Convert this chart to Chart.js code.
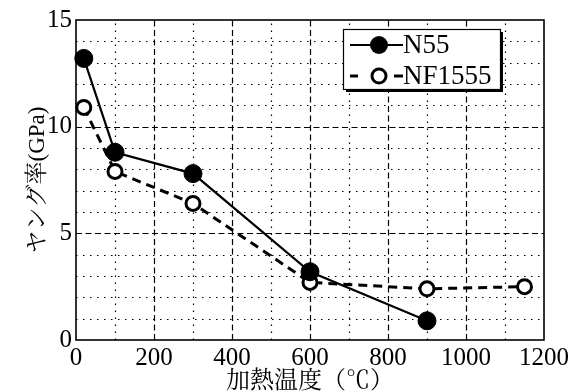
<!DOCTYPE html>
<html><head><meta charset="utf-8">
<script src="https://cdn.jsdelivr.net/npm/chart.js@4/dist/chart.umd.min.js"></script>
<style>html,body{margin:0;padding:0;background:#fff}#wrap{width:579px;height:392px;position:relative}</style>
</head><body><div id="wrap"><canvas id="c" width="579" height="392"></canvas></div>
<script>
const temps_N55 = [20, 100, 300, 600, 900];
const young_N55 = [13.2, 8.8, 7.8, 3.2, 0.9];
const temps_NF1555 = [20, 100, 300, 600, 900, 1150];
const young_NF1555 = [10.9, 7.9, 6.4, 2.7, 2.4, 2.5];
const seriesNames = ['N55', 'NF1555'];
const xTitle = '加熱温度（℃）';
const yTitle = 'ヤング率(GPa)';

const SERIF = "'Liberation Serif', 'Noto Serif CJK JP', serif";

const gridPlugin = {
  id: 'grid',
  beforeDatasetsDraw(chart) {
    const {ctx, chartArea: a, scales: {x, y}} = chart;
    ctx.save();
    ctx.strokeStyle = '#000';
    ctx.lineWidth = 1.2;
    ctx.setLineDash([1.5, 5.5]);
    for (let v = 100; v < 1200; v += 100) {
      if (v % 200 === 0) continue;
      const px = Math.round(x.getPixelForValue(v)) + 0.5;
      ctx.beginPath(); ctx.moveTo(px, a.bottom); ctx.lineTo(px, a.top); ctx.stroke();
    }
    for (let v = 1; v < 15; v += 1) {
      if (v % 5 === 0) continue;
      const py = Math.round(y.getPixelForValue(v)) + 0.5;
      ctx.beginPath(); ctx.moveTo(a.left, py); ctx.lineTo(a.right, py); ctx.stroke();
    }
    ctx.setLineDash([6, 3.5]);
    for (let v = 200; v < 1200; v += 200) {
      const px = Math.round(x.getPixelForValue(v)) + 0.5;
      ctx.beginPath(); ctx.moveTo(px, a.bottom); ctx.lineTo(px, a.top); ctx.stroke();
    }
    for (let v = 5; v < 15; v += 5) {
      const py = Math.round(y.getPixelForValue(v)) + 0.5;
      ctx.beginPath(); ctx.moveTo(a.left, py); ctx.lineTo(a.right, py); ctx.stroke();
    }
    ctx.setLineDash([]);
    ctx.lineWidth = 1.6;
    ctx.strokeRect(a.left, a.top, a.right - a.left, a.bottom - a.top);
    ctx.restore();
  },
  afterDraw(chart) {
    const {ctx} = chart;
    ctx.save();
    const bx = 343, by = 29, bw = 157, bh = 60;
    ctx.fillStyle = '#000';
    ctx.fillRect(bx + 3, by + 3, bw, bh);
    ctx.fillStyle = '#fff';
    ctx.fillRect(bx, by, bw, bh);
    ctx.strokeStyle = '#000';
    ctx.lineWidth = 1.2;
    ctx.strokeRect(bx + 0.5, by + 0.5, bw, bh);
    const y1 = 45, y2 = 76, lx0 = 350, lx1 = 403, mx = 379;
    ctx.lineWidth = 2.2;
    ctx.beginPath(); ctx.moveTo(lx0, y1); ctx.lineTo(lx1, y1); ctx.stroke();
    ctx.beginPath(); ctx.arc(mx, y1, 9, 0, Math.PI * 2); ctx.fillStyle = '#000'; ctx.fill();
    ctx.lineWidth = 3;
    ctx.beginPath(); ctx.moveTo(lx0, y2); ctx.lineTo(lx0 + 8, y2); ctx.stroke();
    ctx.beginPath(); ctx.moveTo(lx1 - 9, y2); ctx.lineTo(lx1, y2); ctx.stroke();
    ctx.beginPath(); ctx.arc(mx, y2, 7, 0, Math.PI * 2); ctx.fillStyle = '#fff'; ctx.fill(); ctx.stroke();
    ctx.fillStyle = '#000';
    ctx.font = "27px 'Liberation Serif', serif";
    ctx.textBaseline = 'middle';
    ctx.textAlign = 'left';
    ctx.fillText(seriesNames[0], 403, y1 + 1);
    ctx.fillText(seriesNames[1], 403, y2 + 1);
    ctx.restore();
  }
};

function build() {
  new Chart(document.getElementById('c'), {
    type: 'line',
    data: {
      datasets: [
        {
          label: seriesNames[0],
          data: temps_N55.map((t, i) => ({x: t, y: young_N55[i]})),
          borderColor: '#000', borderWidth: 2.2,
          pointRadius: 9, pointBackgroundColor: '#000', pointBorderColor: '#000', pointBorderWidth: 1,
          tension: 0, clip: false
        },
        {
          label: seriesNames[1],
          data: temps_NF1555.map((t, i) => ({x: t, y: young_NF1555[i]})),
          borderColor: '#000', borderWidth: 3, borderDash: [9, 6],
          pointRadius: 7, pointBackgroundColor: '#fff', pointBorderColor: '#000', pointBorderWidth: 3,
          tension: 0, clip: false
        }
      ]
    },
    options: {
      responsive: false, animation: false,
      layout: {padding: {left: 0, right: 35, top: 20, bottom: 0}},
      plugins: {legend: {display: false}, tooltip: {enabled: false}},
      scales: {
        x: {
          type: 'linear', min: 0, max: 1200,
          grid: {display: false, drawTicks: false},
          border: {display: false},
          ticks: {stepSize: 200, color: '#000', padding: 3, maxRotation: 0, font: {family: SERIF, size: 25},
                  callback: v => String(v)},
          title: {display: true, text: xTitle, color: '#000', font: {family: SERIF, size: 24}, padding: {top: 0, bottom: -4}},
          afterFit(s) { s.height = 52; }
        },
        y: {
          min: 0, max: 15,
          grid: {display: false, drawTicks: false},
          border: {display: false},
          ticks: {stepSize: 5, color: '#000', padding: 4, font: {family: SERIF, size: 25}, callback: v => String(v)},
          title: {display: true, text: yTitle, color: '#000', font: {family: SERIF, size: 23}, padding: {top: 24, bottom: 0}},
          afterFit(s) { s.width = 76; }
        }
      }
    },
    plugins: [gridPlugin]
  });
}
if (document.fonts && document.fonts.load) {
  Promise.all([
    document.fonts.load("25px 'Liberation Serif'"),
    document.fonts.load("25px 'Noto Serif CJK JP'", '加熱温度ヤング率℃')
  ]).then(build, build);
} else build();
</script></body></html>
